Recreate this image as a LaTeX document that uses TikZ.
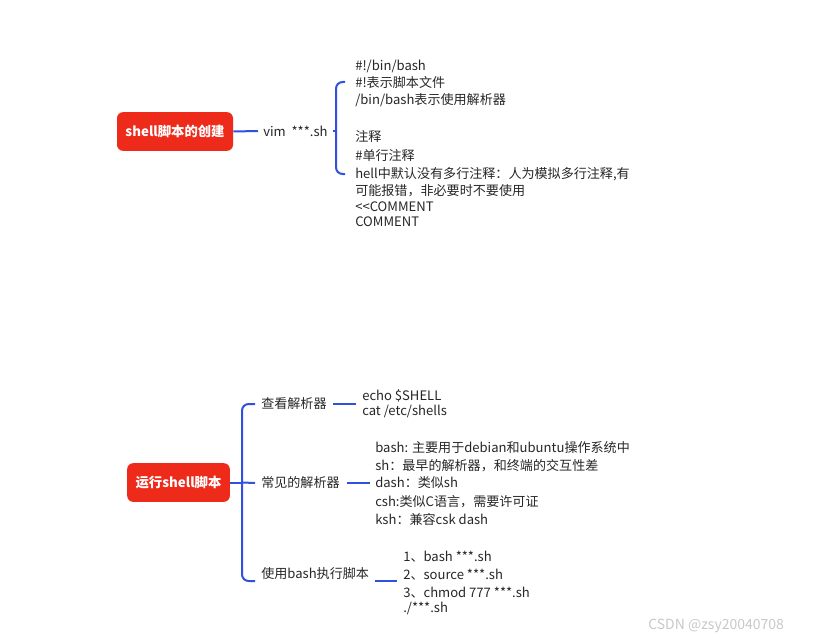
\documentclass[tikz,border=0pt]{standalone}
\usepackage{fontspec}
\setmainfont{Noto Sans CJK SC}
\definecolor{rootred}{HTML}{EE2A1B}
\definecolor{linkblue}{HTML}{3050DE}
\definecolor{txt}{HTML}{262626}
\definecolor{wm}{HTML}{C8C8C8}
\begin{document}
\begin{tikzpicture}[x=0.75pt,y=-0.75pt,
  rootbox/.style={fill=rootred, rounded corners=4.5pt, text=white,
    font=\fontsize{10}{12}\selectfont\bfseries, minimum height=29pt, inner sep=0pt},
  lbl/.style={anchor=west, inner sep=0pt, font=\fontsize{9.8}{11}\selectfont, text=txt},
  link/.style={draw=linkblue, line width=1.5pt},
  brace/.style={link, rounded corners=5pt}]
\useasboundingbox (0,0) rectangle (814,642);

% ---------- top branch ----------
\node[rootbox, minimum width=87pt] (r1) at (175,131.5) {shell脚本的创建};
\node[lbl] (vim) at (263,131) {vim\ \ ***.sh};
\coordinate (b1) at (336,131);
\node[lbl] (t1) at (355,66) {\#!/bin/bash};
\node[lbl] (t2) at (355,82) {\#!表示脚本文件};
\node[lbl] (t3) at (355,100) {/bin/bash表示使用解析器};
\node[lbl] (t4) at (355,137) {注释};
\node[lbl] (t5) at (355,156) {\#单行注释};
\node[lbl] (t6) at (355,174) {hell中默认没有多行注释：人为模拟多行注释,有};
\node[lbl] (t7) at (355,191) {可能报错，非必要时不要使用};
\node[lbl] (t8) at (355,207) {<{}<COMMENT};
\node[lbl] (t9) at (355,222) {COMMENT};

\draw[link] (r1.east) -- ([xshift=-3.75pt]vim.west);
\draw[link] ([xshift=3.75pt]vim.east) -- (b1);
\draw[brace] ([xshift=-7.5pt]t2.west) -| (b1) |- ([xshift=-7.5pt]t6.west);

% ---------- bottom branch ----------
\node[rootbox, minimum width=77pt] (r2) at (178.5,482.5) {运行shell脚本};
\coordinate (b2) at (242,482.5);
\node[lbl] (c1) at (261,404) {查看解析器};
\node[lbl] (c2) at (261,483) {常见的解析器};
\node[lbl] (c3) at (261,574) {使用bash执行脚本};
\coordinate (c3u) at (255,581);

\draw[link] (r2.east) -- (b2);
\draw[brace] ([xshift=-4.5pt]c1.west) -| (b2) |- (c3u);
\draw[link] (b2) -- ([xshift=-4.5pt]c2.west);

% viewing
\node[lbl] (e1) at (362,396) {echo \$SHELL};
\node[lbl] (e2) at (362,411) {cat /etc/shells};
\coordinate (e0) at (356,404);
\draw[link] ([xshift=4.5pt]c1.east) -- (e0);

% common parsers
\node[lbl] (d1) at (375,448) {bash: 主要用于debian和ubuntu操作系统中};
\node[lbl] (d2) at (375,466) {sh：最早的解析器，和终端的交互性差};
\node[lbl] (d3) at (375,483) {dash：类似sh};
\node[lbl] (d4) at (375,502) {csh:类似C语言，需要许可证};
\node[lbl] (d5) at (375,519) {ksh：兼容csk dash};
\draw[link] ([xshift=5pt]c2.east) -- ([xshift=-3.75pt]d3.west);

% run with bash
\node[lbl] (f1) at (403,557) {1、bash ***.sh};
\node[lbl] (f2) at (403,575) {2、source ***.sh};
\node[lbl] (f3) at (403,593) {3、chmod 777 ***.sh};
\node[lbl] (f4) at (403,608) {./***.sh};
\coordinate (f0) at (397,581);
\draw[link] (c3.east |- f0) ++(4.5pt,0) -- (f0);

% watermark
\node[anchor=west, inner sep=0pt, text=wm, font=\fontsize{10.5}{12}\selectfont] (wmk) at (648,626) {CSDN @zsy20040708};
\end{tikzpicture}
\end{document}
